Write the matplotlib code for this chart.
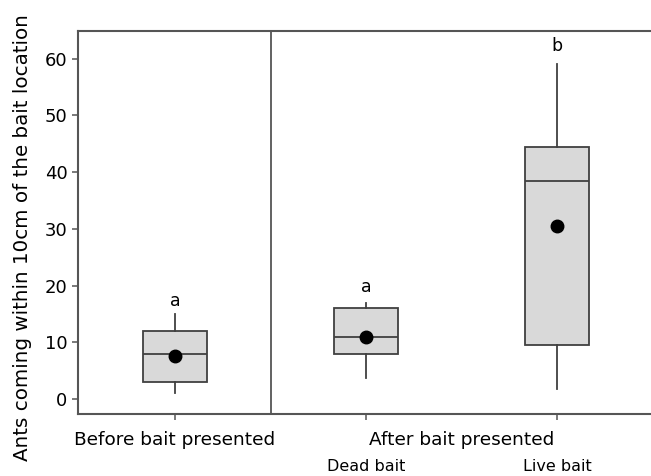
import matplotlib
matplotlib.use("Agg")
import matplotlib.pyplot as plt
from matplotlib.transforms import blended_transform_factory

# ---- data ----
positions = [1, 2, 3]
whisker_low = [1.0, 3.7, 1.8]
q1 = [3.0, 8.0, 9.5]
medians = [8.0, 11.0, 38.5]
q3 = [12.0, 16.0, 44.5]
whisker_high = [15.0, 17.0, 59.0]
means = [7.6, 10.9, 30.5]
letters = ["a", "a", "b"]
letter_y = [17.3, 19.7, 62.2]

group_labels = ["Before bait presented", "After bait presented"]
group_centers = [1, 2.5]
sub_labels = ["", "Dead bait", "Live bait"]

BOX_FILL = "#d9d9d9"
EDGE = "#404040"

fig = plt.figure(figsize=(6.51, 4.76), dpi=100)
ax = fig.add_axes([0.1198, 0.130, 0.8802, 0.805])

stats = []
for i in range(len(positions)):
    stats.append({
        "whislo": whisker_low[i], "q1": q1[i], "med": medians[i],
        "q3": q3[i], "whishi": whisker_high[i], "fliers": [],
    })

ax.bxp(stats, positions=positions, widths=0.335, patch_artist=True,
       showcaps=False, showfliers=False,
       boxprops=dict(facecolor=BOX_FILL, edgecolor=EDGE, linewidth=1.3),
       medianprops=dict(color=EDGE, linewidth=1.3),
       whiskerprops=dict(color=EDGE, linewidth=1.3))

ax.plot(positions, means, "o", color="black", markersize=9, zorder=5)

for x, y, s in zip(positions, letter_y, letters):
    ax.text(x, y, s, ha="center", va="center", fontsize=12.5)

ax.axvline(1.5, color="#555555", linewidth=1.3)

ax.set_xlim(0.493, 3.49)
ax.set_ylim(-2.65, 64.9)
ax.set_yticks([0, 10, 20, 30, 40, 50, 60])
ax.set_xticks(positions)
ax.set_xticklabels([])
ax.tick_params(axis="both", labelsize=13, color="#555555", length=4, width=1.1)

trans = blended_transform_factory(ax.transData, ax.transAxes)
for x, s in zip(group_centers, group_labels):
    ax.text(x, -0.043, s, transform=trans, ha="center", va="top", fontsize=13.3)
for x, s in zip(positions, sub_labels):
    if s:
        ax.text(x, -0.118, s, transform=trans, ha="center", va="top", fontsize=11.5)

ax.set_ylabel("Ants coming within 10cm of the bait location", fontsize=14.3)
ax.yaxis.set_label_coords(-0.08, 0.46)

for side in ["left", "bottom", "top"]:
    ax.spines[side].set_color("#555555")
    ax.spines[side].set_linewidth(1.5)
ax.spines["right"].set_visible(False)

fig.savefig("out.png", dpi=100)
